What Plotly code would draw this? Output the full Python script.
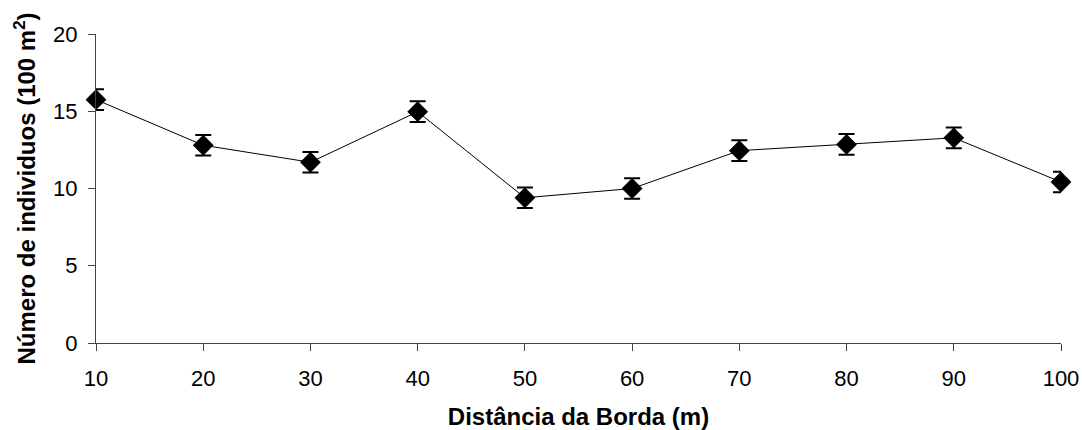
import plotly.graph_objects as go

# Distance from the forest edge (m) and mean count per 100 m²
distancia = [10, 20, 30, 40, 50, 60, 70, 80, 90, 100]
individuos = [15.75, 12.8, 11.7, 14.97, 9.4, 10.0, 12.45, 12.85, 13.28, 10.42]
erro = [0.67, 0.67, 0.67, 0.67, 0.67, 0.67, 0.67, 0.67, 0.67, 0.67]

y_ticks = [0, 5, 10, 15, 20]

fig = go.Figure(
    go.Scatter(
        x=distancia,
        y=individuos,
        mode="lines+markers",
        line=dict(color="black", width=1),
        marker=dict(symbol="diamond", size=16, color="black"),
        error_y=dict(type="data", array=erro, visible=True,
                     color="black", thickness=2, width=8),
        cliponaxis=False,
    )
)

font_family = "Liberation Sans, Arial, sans-serif"

fig.update_layout(
    width=1082,
    height=430,
    margin=dict(l=96, r=21, t=34, b=87),
    paper_bgcolor="white",
    plot_bgcolor="white",
    showlegend=False,
    font=dict(family=font_family, color="black", size=22),
    xaxis=dict(
        range=[10, 100],
        tickvals=distancia,
        ticks="outside",
        ticklen=7,
        tickcolor="#444",
        showline=True,
        linecolor="#444",
        linewidth=1,
        showgrid=False,
        zeroline=False,
        automargin=False,
        tickfont=dict(size=22),
        ticklabelstandoff=9,
        title=dict(text="<b>Distância da Borda (m)</b>", font=dict(size=24), standoff=17),
    ),
    yaxis=dict(
        range=[0, 20],
        tickvals=y_ticks,
        ticks="outside",
        ticklen=7,
        tickcolor="#444",
        showline=True,
        linecolor="#444",
        linewidth=1,
        showgrid=False,
        zeroline=False,
        automargin=False,
        tickfont=dict(size=22),
        ticklabelstandoff=6,
        title=dict(text="<b>Número de individuos (100 m<sup>2</sup>)</b>", font=dict(size=24), standoff=10),
    ),
)

fig.write_html("out.html")
